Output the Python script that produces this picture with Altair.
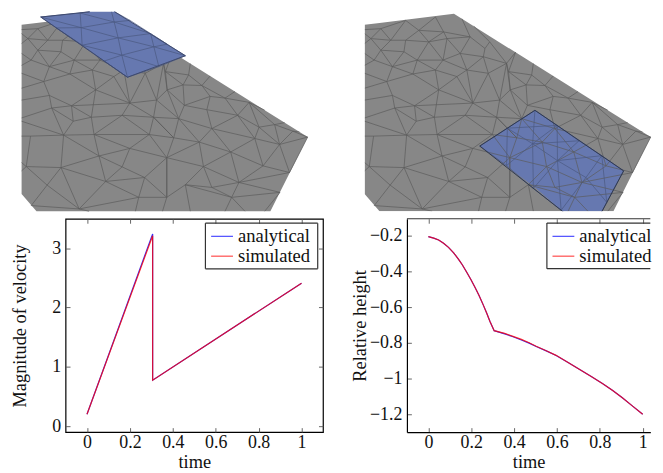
import altair as alt
import pandas as pd

FONT = "Liberation Serif"

# Line charts ---------------------------------------------------------------
vel_t = [0, 0.306, 0.306, 1]
vel_analytical = [0.2, 3.24, 0.775, 2.41]
vel_simulated = [0.2, 3.21, 0.775, 2.41]

h_t = [0, 0.025, 0.048, 0.071, 0.094, 0.118, 0.141, 0.159, 0.179, 0.199, 0.218, 0.236, 0.256, 0.272, 0.287, 0.307,
       0.356, 0.395, 0.434, 0.47, 0.503, 0.55, 0.596, 0.65, 0.704, 0.76, 0.812, 0.86, 0.905, 0.95, 1]
h_analytical = [-0.206, -0.214, -0.225, -0.243, -0.266, -0.296, -0.333, -0.364, -0.405, -0.447, -0.49, -0.533,
                -0.587, -0.633, -0.678, -0.731, -0.749, -0.765, -0.783, -0.801, -0.820, -0.844, -0.870, -0.907,
                -0.947, -0.987, -1.026, -1.065, -1.106, -1.150, -1.198]
h_simulated = [-0.206, -0.214, -0.225, -0.243, -0.266, -0.296, -0.333, -0.364, -0.405, -0.447, -0.49, -0.533,
               -0.587, -0.633, -0.678, -0.731, -0.746, -0.763, -0.780, -0.799, -0.818, -0.843, -0.869, -0.907,
               -0.947, -0.987, -1.026, -1.065, -1.106, -1.150, -1.198]

x_ticks = [0, 0.2, 0.4, 0.6, 0.8, 1]
vel_ticks = [0, 1, 2, 3]
h_ticks = [-0.2, -0.4, -0.6, -0.8, -1, -1.2]

# Mesh (pixel-like coordinates of the rendered surface) ------------------------
mesh_vertices = {
    "A": (62.3, 132.3), "B": (29, 133.3), "C": (59.7, 165), "D": (24.7, 164), "E": (98, 153.3),
    "F": (93, 131.7), "G": (129, 145.7), "H": (121.3, 164.3), "I": (104.7, 179), "J": (78, 206.7),
    "K": (45.7, 182.7), "L": (29.7, 203.3), "M": (144, 175), "N": (138, 195), "O": (166.3, 195),
    "P": (166.3, 155), "Q": (148.7, 131.7), "R": (153, 114.3), "S": (121.3, 112.3), "T": (90.3, 114.3),
    "U": (72, 118.3), "V": (50.3, 105), "W": (70.3, 102.7), "X": (129, 100),
    "u1": (42.3, 78.3), "u2": (48, 63.3), "u3": (73, 56.7), "u4": (99, 56.7), "u5": (68.6, 70.7),
    "u6": (91.3, 66.7), "u7": (123, 66.7), "u8": (94.6, 86.7), "u10": (48, 92.3), "u12": (113, 73.3),
    "u13": (84.6, 38.3), "u14": (61.3, 36.7), "u15": (46.3, 36.7), "u16": (26.3, 35), "u17": (36.3, 46.7),
    "u18": (29.6, 56.7), "u19": (59.6, 48.3), "u20": (103, 35), "u21": (116.3, 50), "u22": (139.6, 53.3),
    "u23": (141.3, 45), "u24": (126.3, 33.3), "u25": (99.6, 28.3), "u26": (61.3, 16.7), "u27": (91.3, 13.3),
    "u28": (144.6, 70), "u29": (163, 60), "u30": (146, 38.3), "u31": (36.3, 25), "u32": (74.6, 26.7),
    "u33": (156, 97),
    "a": (185, 182.3), "c": (203.3, 164), "e": (199, 139.3), "f": (178.3, 115.7), "g": (211.7, 125.7),
    "h": (230.7, 149.3), "i": (255, 135.7), "j": (239, 180), "k": (263.3, 163.3), "l": (290, 170),
    "m": (280, 141.7), "n": (308.3, 134.3), "o": (259.3, 124.3), "p": (237.7, 112.3), "q": (184, 102.3),
    "r": (206.7, 106.7), "s": (182.7, 81.7), "t": (166.7, 86.7), "u": (210, 93.3), "v": (201.7, 82.3),
    "w": (275, 121.7), "x": (249.3, 99.3), "y": (231.7, 195), "z": (211.7, 185), "aa": (280.4, 190),
    "ab": (188.3, 71.7), "ac": (165, 68.3), "ad": (225, 95), "af": (293.3, 128.3), "ag": (173.3, 135),
    "b1": (20, 133.3), "b2": (20, 115), "b3": (20, 118.3), "b4": (20, 160), "b5": (20, 168.3),
    "b6": (20, 85), "b7": (20, 70), "b8": (20, 62), "b9": (20, 50), "b10": (20, 40), "b11": (20, 30),
    "b12": (20, 26), "b13": (20, 97),
    "c1": (134.7, 209), "c2": (162, 209), "c3": (190, 209), "c4": (225, 209), "c5": (245, 209), "c8": (88, 209),
    "c10": (265, 209),
    "e1": (172, 48.9), "e2": (190, 60.2), "e3": (210, 72.7), "e4": (235, 88.4), "e5": (265, 107.2),
    "e6": (285, 119.7), "e7": (300, 129.1), "e8": (118, 15), "e9": (130, 22.5),
}
mesh_edges = """
B-A A-C C-D C-E A-E A-F F-E F-Q G-F E-G E-H E-I G-Q G-H G-P H-I H-M M-I C-I C-J C-K K-D K-J K-L L-J J-I I-N
M-N N-O N-J M-P M-O P-O Q-P S-Q S-F S-R R-Q T-F T-S U-T U-A V-A V-U U-W W-T W-X X-S X-R B-D B-b1 A-b3 V-b2 D-b4 D-b5
N-c1 O-c2 J-c8 a-c3 y-c4 y-c5 aa-c10
u1-u2 u1-u5 u1-u10 u1-b6 u1-b7 u10-V u10-W u10-b13 u5-u8 u5-u3 u5-u2 u5-u6 u3-u2 u3-u4 u3-u6 u4-u6 u4-u7 u6-u8 u6-u12
u12-u7 u12-u8 u12-X u8-W u8-X u8-T W-V u7-u21 u7-u22 u7-u28 u7-X u21-u4 u21-u20 u21-u22 u20-u4 u20-u13 u13-u3 u13-u4
u13-u14 u13-u25 u14-u19 u14-u15 u14-u32 u19-u3 u19-u2 u19-u17 u17-u2 u17-u18 u18-u2 u18-b8 u18-b9 u17-u15 u17-u16 u16-u15
u16-b10 u16-b11 u15-u31 u31-u16 u31-u26 u31-b12 u26-u32 u26-u15 u32-u13 u32-u27 u32-u25 u27-u25 u25-u24 u25-u20 u24-u20
u24-u23 u24-u21 u24-e8 u23-u22 u23-u30 u30-e9 u30-u29 u22-u29 u22-u28 u28-u29 u28-X u28-u33 X-u33 u33-R u29-u33 u29-e1
u29-ac ac-ab ac-t ac-s ab-s ab-v ab-e2 ac-e1 u29-t u33-t t-s t-q t-f u33-f R-f R-ag s-v s-q v-u v-ad v-e3 u-q u-r u-ad
ad-e4 ad-x ad-p r-p r-q r-g q-f f-g f-e f-ag ag-P ag-e ag-Q ag-R e-P e-g e-c e-h g-p g-h g-i p-i p-o p-x o-i o-x o-w o-m
x-e5 x-w w-m w-af w-e6 af-n af-m af-e7 m-i m-k m-n m-l i-k i-h h-k h-c h-j k-j k-l l-j l-n c-P c-j c-a c-z O-a O-P a-z
z-j z-y a-y j-y j-aa y-aa
""".split()

gray_x = [20, 35, 110, 270.7, 308.3]
gray_top = [21, 19.2, 10, 110.7, 134.3]
gray_bottom = [191.7, 209, 209, 209, 134.3]

block1_outline_x = [39.3, 88.6, 113.7, 126.7, 185]
block1_top = [13.3, 8, 8, 16, 52.3]
block1_bottom = [13.3, 47.6, 65, 74, 52.3]
block1_vertices = {
    "n00": (39.3, 13.3), "n01": (79, 9.3), "n02": (110.6, 8), "n02a": (88.6, 8), "n02c": (113.7, 8),
    "n10": (55, 24.3), "n11": (80, 24), "n12": (113.3, 18.3), "n13": (129.3, 16.7),
    "n20": (81, 41.7), "n21": (117.3, 34.3), "n22": (150, 30),
    "n30": (103.3, 57.7), "n31": (121, 51.7), "n32": (153.3, 43.3), "n33": (166.7, 40.7),
    "n40": (126.7, 74), "n41": (158.3, 63.3), "n42": (185, 52.3),
}
block1_edges = """
n00-n01 n01-n02a n10-n11 n11-n12 n12-n13 n20-n21 n21-n22 n30-n31 n31-n32 n32-n33 n40-n41 n41-n42
n00-n10 n10-n20 n20-n30 n30-n40 n02c-n13 n13-n22 n22-n33 n33-n42
n01-n11 n11-n20 n02-n12 n12-n21 n21-n31 n31-n40 n22-n32 n32-n41
n00-n11 n10-n20 n01-n12 n11-n21 n20-n31 n30-n40 n12-n22 n21-n32 n31-n41 n22-n33 n32-n42
""".split()
block1_border = [(88.6, 8), (39.3, 13.3), (126.7, 74), (185, 52.3), (113.7, 8)]

block2_outline_x = [136, 191.6, 219.3, 259.3, 281]
block2_top = [143.3, 107.3, 126, 153, 168.3]
block2_bottom = [143.3, 185, 209, 209, 168.3]
block2_vertices = {
    "g00": (191.6, 107.3), "g01": (214, 122.5), "g02": (236, 138), "g03": (259, 153), "g04": (281, 168.3),
    "g10": (163.8, 125.3), "g11": (189.3, 141), "g12": (214.3, 158), "g13": (243, 175), "g14": (264, 200),
    "g20": (136, 143.3), "g21": (163, 163), "g22": (190, 186), "g23": (218, 208), "g24": (247, 231),
}
block2_edges = """
g00-g01 g01-g02 g02-g03 g03-g04 g10-g11 g11-g12 g12-g13 g13-g14 g20-g21 g21-g22 g22-g23 g23-g24
g00-g10 g10-g20 g01-g11 g11-g21 g02-g12 g12-g22 g03-g13 g13-g23 g04-g14 g14-g24
g00-g11 g01-g12 g03-g14 g10-g21 g11-g22 g12-g23 g01-g10 g02-g11 g03-g12
""".split()
block2_border = [(219.3, 209), (136, 143.3), (191.6, 107.3), (281, 168.3), (259.3, 209)]

GRAY = "#878787"
BLUE = "#6678b0"
EDGE = "#5c5c5c"

dom_y = [209, 8]
sy = alt.Scale(domain=dom_y, nice=False, zero=False)


def edges_df(vertices, edges):
    rows = []
    for e in edges:
        a, b = e.split("-")
        rows.append(dict(x=vertices[a][0], y=vertices[a][1], x2=vertices[b][0], y2=vertices[b][1]))
    return pd.DataFrame(rows)


def area_layer(sx, xs, top, bottom, color, clip):
    df = pd.DataFrame(dict(x=xs, y=top, y2=bottom))
    return alt.Chart(df).mark_area(color=color, clip=clip, interpolate="linear").encode(
        x=alt.X("x:Q", scale=sx, axis=None),
        y=alt.Y("y:Q", scale=sy, axis=None),
        y2="y2:Q",
    )


def edge_layer(sx, df, color, width, clip):
    return alt.Chart(df).mark_rule(color=color, strokeWidth=width, clip=clip).encode(
        x=alt.X("x:Q", scale=sx, axis=None),
        y=alt.Y("y:Q", scale=sy, axis=None),
        x2="x2:Q",
        y2="y2:Q",
    )


def outline_layer(sx, pts, color, clip):
    df = pd.DataFrame([dict(x=p[0], y=p[1], o=i) for i, p in enumerate(pts)])
    return alt.Chart(df).mark_line(color=color, strokeWidth=1, clip=clip).encode(
        x=alt.X("x:Q", scale=sx, axis=None),
        y=alt.Y("y:Q", scale=sy, axis=None),
        order="o:Q",
    )


mesh_df = edges_df(mesh_vertices, mesh_edges)
b1_df = edges_df(block1_vertices, block1_edges)
b2_df = edges_df(block2_vertices, block2_edges)

sx1 = alt.Scale(domain=[64.3, 314.3], nice=False, zero=False)
sx2 = alt.Scale(domain=[20, 309.3], nice=False, zero=False)

panel1 = alt.layer(
    area_layer(sx1, gray_x, gray_top, gray_bottom, GRAY, False),
    edge_layer(sx1, mesh_df, EDGE, 0.7, False),
    area_layer(sx1, block1_outline_x, block1_top, block1_bottom, BLUE, False),
    edge_layer(sx1, b1_df, "#4a5880", 0.7, False),
    outline_layer(sx1, block1_border, "#3d4a70", False),
).properties(width=250, height=201)

panel2 = alt.layer(
    area_layer(sx2, gray_x, gray_top, gray_bottom, GRAY, True),
    area_layer(sx2, block2_outline_x, block2_top, block2_bottom, BLUE, True),
    edge_layer(sx2, mesh_df, EDGE, 0.7, True),
    edge_layer(sx2, b2_df, "#4a5880", 0.7, True),
    outline_layer(sx2, block2_border, "#2f3850", True),
).properties(width=289.3, height=201)

top_row = alt.hconcat(panel1, panel2, spacing=51.4)

H = 215
LEFT_W = 259.4
RIGHT_W = 245.3


def line_panel(t, analytical, simulated, x_domain, y_domain, y_ticks, y_title, width, title_pad, open_right, box):
    df = pd.concat([
        pd.DataFrame(dict(t=t, v=analytical, series="analytical", o=range(len(t)))),
        pd.DataFrame(dict(t=t, v=simulated, series="simulated", o=range(len(t)))),
    ])
    x_axis = alt.Axis(
        values=x_ticks, format="~g", title="time", ticks=False, domain=open_right,
        domainColor="black", domainWidth=1.2, grid=True,
        gridColor="#555555", gridWidth=0.9, gridDash=[4.5, H - 9, 4.5, 1000],
        labelFont=FONT, labelFontSize=18, labelColor="#111111", labelPadding=2,
        titleFont=FONT, titleFontSize=18.5, titleFontWeight="normal", titleColor="#111111", titlePadding=1,
    )
    y_axis = alt.Axis(
        values=y_ticks, format="~g", title=y_title, ticks=False, domain=open_right,
        domainColor="black", domainWidth=1.2, grid=True,
        gridColor="#555555", gridWidth=0.9,
        gridDash=[4.5, 1000] if open_right else [4.5, width - 9, 4.5, 1000],
        labelFont=FONT, labelFontSize=18, labelColor="#111111", labelPadding=5,
        titleFont=FONT, titleFontSize=18.5, titleFontWeight="normal", titleColor="#111111",
        titlePadding=title_pad,
    )
    xs = alt.Scale(domain=x_domain, nice=False, zero=False)
    ys = alt.Scale(domain=y_domain, nice=False, zero=False)
    lines = alt.Chart(df).mark_line(strokeWidth=1.2, opacity=0.8).encode(
        x=alt.X("t:Q", scale=xs, axis=x_axis),
        y=alt.Y("v:Q", scale=ys, axis=y_axis),
        order="o:Q",
        color=alt.Color(
            "series:N",
            scale=alt.Scale(domain=["analytical", "simulated"], range=["#0000ff", "#ff0000"]),
            legend=alt.Legend(
                orient="none", legendX=142.7, legendY=4.7, title=None, symbolType="stroke",
                symbolSize=484, symbolStrokeWidth=1.2, symbolOpacity=0.7,
                labelFont=FONT, labelFontSize=18.7, labelColor="#111111", labelOffset=4,
                padding=3, rowPadding=0, clipHeight=20, labelLimit=120,
            ),
        ),
    )
    frame = alt.Chart(pd.DataFrame(box)).mark_rule(color="#333333", strokeWidth=1.2).encode(
        x=alt.X("x:Q", scale=xs, axis=x_axis), x2="x2:Q",
        y=alt.Y("y:Q", scale=ys, axis=y_axis), y2="y2:Q",
    )
    view = alt.ViewConfig(stroke=None) if open_right else alt.ViewConfig(stroke="black", strokeWidth=1.2)
    return alt.layer(lines, frame).properties(width=width, height=H, view=view)


left_box = dict(
    x=[0.552, 0.552, 0.552, 1.0755],
    x2=[1.0755, 1.0755, 0.552, 1.0755],
    y=[3.421, 2.652, 3.421, 3.421],
    y2=[3.421, 2.652, 2.652, 2.652],
)
right_box = dict(
    x=[-0.1, 0.553, 0.553, 0.553],
    x2=[1.0356, 1.0356, 1.0356, 0.553],
    y=[-0.106, -0.130, -0.385, -0.130],
    y2=[-0.106, -0.130, -0.385, -0.385],
)

left = line_panel(vel_t, vel_analytical, vel_simulated, [-0.1, 1.1], [-0.1, 3.495], vel_ticks,
                  "Magnitude of velocity", LEFT_W, 22.5, False, left_box)
right = line_panel(h_t, h_analytical, h_simulated, [-0.1, 1.0356], [-1.298, -0.106], h_ticks,
                   "Relative height", RIGHT_W, 0, True, right_box)

bottom_row = alt.hconcat(left, right, spacing=27).resolve_scale(color="independent")

chart = alt.vconcat(top_row, bottom_row, spacing=5.6).properties(
    padding={"left": 1, "top": 0, "right": 0, "bottom": 0}
).configure_view(stroke=None)

chart.save("out.html", embed_options={"renderer": "svg", "actions": False})
